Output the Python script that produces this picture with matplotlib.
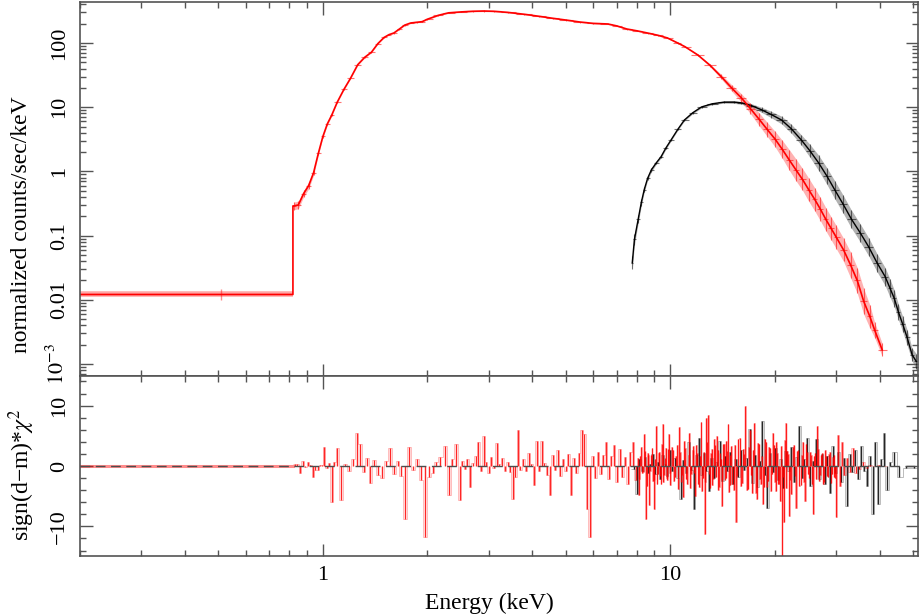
import matplotlib

matplotlib.use("Agg")
import matplotlib.pyplot as plt  # noqa: E402
import numpy as np  # noqa: E402
from matplotlib.ticker import LogLocator, MultipleLocator, NullFormatter  # noqa: E402

plt.rcParams["font.family"] = ["Liberation Serif", "DejaVu Serif"]
plt.rcParams["mathtext.fontset"] = "stix"

# ---- unfolded spectra (keV, counts/s/keV, half-width of scatter in dex) ----
red_wide_lo, red_wide_hi = 0.2, 0.82
red_wide_flux = 0.0121
red_wide_dex = 0.085
red_last_edge = 42.0

red_e = [0.825, 0.85, 0.88, 0.91, 0.94, 0.97, 1.00, 1.03, 1.06, 1.10, 1.15, 1.20, 1.26, 1.32,
         1.38, 1.44, 1.50, 1.55, 1.60, 1.66, 1.72, 1.79, 1.86, 1.93, 2.0, 2.15, 2.3, 2.5, 2.7,
         2.9, 3.1, 3.4, 3.8, 4.2, 4.6, 5.0, 5.5, 6.0, 6.6, 7.0, 7.5, 8.0, 8.6, 9.2, 9.8, 10.5,
         11.0, 12.0, 13.0, 14.0, 15.0, 16.0, 17.0, 18.0, 19.0, 20.0, 21.0, 22.0, 23.0, 24.0,
         25.0, 26.0, 27.0, 28.0, 29.0, 30.0, 31.5, 33.0, 34.5, 36.0, 37.5, 38.7, 40.7]
red_f = [0.29, 0.30, 0.45, 0.60, 0.95, 1.9, 3.5, 5.5, 7.5, 12, 19, 28, 46, 60, 72, 98, 122, 135,
         143, 165, 190, 205, 210, 215, 235, 270, 295, 305, 312, 315, 312, 300, 280, 260, 242,
         228, 212, 202, 198, 185, 165, 155, 143, 132, 120, 100, 88, 65, 45, 30, 20, 14, 9.5,
         6.5, 4.5, 3.2, 2.2, 1.5, 1.05, 0.75, 0.52, 0.37, 0.26, 0.18, 0.13, 0.095, 0.06, 0.035,
         0.02, 0.0095, 0.0055, 0.0034, 0.00166]
red_dex = [0.06, 0.06, 0.05, 0.05, 0.04, 0.03, 0.02, 0.02, 0.015, 0.01, 0.01, 0.01, 0.01, 0.01,
           0.01, 0.008, 0.008, 0.008, 0.008, 0.008, 0.008, 0.008, 0.008, 0.008, 0.008, 0.008,
           0.008, 0.008, 0.008, 0.008, 0.008, 0.008, 0.008, 0.008, 0.008, 0.008, 0.008, 0.008,
           0.008, 0.008, 0.008, 0.008, 0.008, 0.008, 0.008, 0.01, 0.01, 0.012, 0.02, 0.035,
           0.05, 0.065, 0.08, 0.1, 0.11, 0.12, 0.14, 0.16, 0.17, 0.17, 0.18, 0.18, 0.18, 0.18,
           0.18, 0.18, 0.18, 0.2, 0.2, 0.2, 0.18, 0.12, 0.1]

blk_first_edge, blk_last_edge = 7.7, 52.0
blk_e = [7.77, 7.88, 8.08, 8.25, 8.41, 8.6, 8.82, 9.1, 9.4, 9.7, 10.05, 10.5, 10.97, 11.6, 12.3,
         13.2, 14.3, 15.2, 16.0, 17.1, 18.3, 19.5, 20.9, 22.3, 23.8, 25.2, 26.7, 28.2, 29.7,
         31.4, 33.2, 35.2, 37.2, 39.3, 41.5, 42.9, 44.1, 45.3, 46.6, 48.0, 49.6, 51.0]
blk_f = [0.038, 0.087, 0.18, 0.33, 0.52, 0.78, 1.06, 1.35, 1.69, 2.3, 3.1, 4.5, 6.3, 8.2, 10.1,
         11.3, 12.0, 12.0, 11.7, 10.6, 9.1, 7.7, 6.3, 4.6, 3.1, 2.1, 1.36, 0.85, 0.52, 0.31,
         0.18, 0.11, 0.067, 0.038, 0.023, 0.015, 0.0105, 0.0065, 0.0042, 0.0026, 0.0014, 0.0011]
blk_dex = [0.1, 0.08, 0.06, 0.05, 0.04, 0.03, 0.03, 0.02, 0.02, 0.02, 0.015, 0.015, 0.015, 0.015,
           0.015, 0.015, 0.015, 0.02, 0.02, 0.03, 0.04, 0.05, 0.06, 0.07, 0.08, 0.1, 0.12, 0.13,
           0.14, 0.14, 0.14, 0.14, 0.14, 0.14, 0.14, 0.14, 0.13, 0.12, 0.12, 0.12, 0.1, 0.12]

# ---- residuals: sign(d-m)*chi^2 per bin ----
red_res_e = ([0.83, 0.845, 0.86, 0.875, 0.89, 0.905, 0.92, 0.935, 0.95, 0.965, 0.98, 0.995]
             + [1.01, 1.025, 1.04, 1.06, 1.08, 1.10, 1.13, 1.16, 1.19, 1.22, 1.25, 1.28, 1.31,
                1.34, 1.37, 1.40, 1.44, 1.48, 1.52, 1.56, 1.60, 1.64, 1.68, 1.72, 1.77, 1.82,
                1.87, 1.92, 1.97, 2.02, 2.07, 2.12, 2.18, 2.24, 2.30, 2.36, 2.42, 2.48]
             + [2.52, 2.56, 2.60, 2.65, 2.70, 2.75, 2.80, 2.85, 2.90, 2.95, 3.00, 3.05, 3.10,
                3.16, 3.22, 3.28, 3.34, 3.40, 3.46, 3.52, 3.58, 3.64, 3.70, 3.77, 3.84, 3.91,
                3.98, 4.05, 4.12, 4.19, 4.26, 4.34, 4.42, 4.50, 4.58, 4.66, 4.74, 4.82, 4.91,
                5.00, 5.09, 5.18, 5.27, 5.36, 5.46, 5.56, 5.66, 5.76, 5.86, 5.97, 6.08, 6.19,
                6.30, 6.41, 6.53, 6.65, 6.77, 6.89, 7.01, 7.14, 7.27, 7.40, 7.53, 7.67, 7.81, 7.95]
             + [8.1, 8.2, 8.3, 8.4, 8.5, 8.6, 8.7, 8.8, 8.9, 9.0, 9.1, 9.2, 9.3, 9.4, 9.5, 9.6,
                9.7, 9.8, 9.9, 10.0, 10.15, 10.3, 10.45, 10.6, 10.75, 10.9, 11.05, 11.2, 11.35,
                11.5, 11.65, 11.8, 11.95, 12.1, 12.25, 12.4, 12.55, 12.7, 12.85, 13.0, 13.15,
                13.3, 13.45, 13.6, 13.75, 13.9, 14.05, 14.2, 14.35, 14.5, 14.65, 14.8, 14.95,
                15.2, 15.45, 15.7, 15.95, 16.2, 16.45, 16.7, 16.95, 17.2, 17.45, 17.7, 17.95,
                18.2, 18.45, 18.7, 18.95, 19.2, 19.45, 19.7, 19.95, 20.2, 20.45, 20.7, 20.95,
                21.2, 21.45, 21.7, 21.95, 22.3, 22.65, 23.0, 23.35, 23.7, 24.05, 24.4, 24.75,
                25.1, 25.45, 25.8, 26.15, 26.5, 26.85, 27.2, 27.55, 27.9, 28.25, 28.6, 28.95,
                29.3, 29.65, 30.0]
             + [30.4, 30.8, 31.2, 31.7, 32.2, 32.8, 33.5, 34.2, 35.0, 35.8, 36.7, 37.6, 38.6,
                39.8, 41.2])
red_res = ([0.3, 0.3, -1.2, 0.9, -0.2, 0.6, 0.1, -1.8, -0.7, -0.7, 0.1, 0.2]
           + [3.1, -0.4, 0.5, -5.9, 0.6, 3.0, -5.6, 0.4, -0.8, 1.2, 5.4, 3.6, -1.0, 1.3, -2.8,
              1.0, -1.5, -2.0, 0.8, 3.0, -1.3, 0.9, -1.6, -8.8, 3.1, -0.7, 1.1, -2.4, -11.7,
              -1.8, -1.2, 0.7, 1.5, 3.3, -4.8, 1.2, 3.6, -5.6]
           + [0.8, -0.5, 1.2, -3.4, 0.5, 1.6, 4.0, -0.8, 4.9, 0.6, -1.2, 1.5, -0.4, 3.8, 0.3,
              1.4, -0.9, 0.7, -1.0, -5.4, -1.8, 5.9, -0.6, 1.2, -0.9, 2.2, 0.4, -3.1, 4.1, -0.8,
              4.1, 0.5, -1.5, -4.8, 1.8, -0.6, 2.6, -1.7, 1.1, -0.9, 2.0, -4.8, 1.3, -1.2, 2.2,
              5.9, 5.3, -7.1, -11.7, 1.6, -2.0, 2.4, -1.3, 1.9, 4.0, -2.2, 1.7, 3.5, -2.6, 2.8,
              -1.9, 1.5, -3.0, 2.3, 4.0, -2.4]
           + [-4.8, 1.6, -1.2, 5.3, -8.7, 2.1, -6.4, 1.8, -2.5, -7.2, 6.7, -1.3, 2.4, -2.9, 7.0,
              -1.5, 3.0, -2.3, 5.3, -3.1, 2.6, -1.8, 3.4, 6.5, -2.6, -5.2, 2.9, -3.0, 5.5, -1.4,
              3.3, -5.0, 2.2, -3.4, 7.3, -2.0, -11.2, 8.0, 8.4, -3.7, 2.8, -2.2, 3.5, 5.0, -3.9,
              2.1, -6.6, 3.6, -2.4, 4.2, 7.0, -3.1, 3.3, -4.0, -9.2, 4.4, -3.3, 2.8, 9.9, -3.8,
              5.9, -4.4, 7.2, -5.5, 3.6, -2.9, -6.3, 4.5, -3.5, 3.1, -4.2, 5.5, -2.6, 3.9, -3.0,
              -5.8, -16.0, -9.3, 7.2, 2.5, -8.3, -4.7, 3.4, -6.9, 2.7, -3.1, 3.9, -5.8, 2.4,
              -2.0, 1.8, -8.0, 2.2, 6.7, -2.5, 1.9, -3.0, 2.6, -1.7, 2.0, -2.8, 1.5, -1.9, -8.4]
           + [5.2, -3.3, 3.9, -1.5, 1.4, -1.0, 3.0, -1.2, -0.5, 0.6, -0.3, 0.2, 0.0, 0.1, 0.0])

# extra narrow red bins between the ones above (8-30 keV, where binning is finest)
red_fine_e = [8.05, 8.15, 8.25, 8.35, 8.45, 8.55, 8.65, 8.75, 8.85, 8.95, 9.05, 9.15, 9.25,
              9.35, 9.45, 9.55, 9.65, 9.75, 9.85, 9.95, 10.08, 10.22, 10.38, 10.52, 10.68,
              10.82, 10.98, 11.12, 11.28, 11.42, 11.58, 11.72, 11.88, 12.02, 12.18, 12.32,
              12.48, 12.62, 12.78, 12.92, 13.08, 13.22, 13.38, 13.52, 13.68, 13.82, 13.98,
              14.12, 14.28, 14.42, 14.58, 14.72, 14.88, 15.08, 15.32, 15.58, 15.82, 16.08,
              16.32, 16.58, 16.82, 17.08, 17.32, 17.58, 17.82, 18.08, 18.32, 18.58, 18.82,
              19.08, 19.32, 19.58, 19.82, 20.08, 20.32, 20.58, 20.82, 21.08, 21.32, 21.58,
              21.82, 22.12, 22.48, 22.82, 23.18, 23.52, 23.88, 24.22, 24.58, 24.92, 25.28,
              25.62, 25.98, 26.32, 26.68, 27.02, 27.38, 27.72, 28.08, 28.42, 28.78, 29.12,
              29.48, 29.82]
red_fine = [1.4, -2.1, 3.2, -1.0, 2.5, -3.3, 1.8, -0.9, 2.9, -2.4, 1.1, -3.0, 2.2, -1.6, 3.6,
            -2.7, 1.3, -2.0, 2.8, -1.2, 3.1, -2.5, 1.7, -3.8, 2.4, -1.5, 4.2, -2.2, 1.9, -3.6,
            2.7, -1.1, 3.5, -2.9, 1.6, -4.1, 2.3, -2.6, 3.9, -1.4, 2.1, -3.2, 4.4, -1.8, 2.6,
            -3.5, 1.2, -2.3, 3.7, -2.0, 2.5, -4.3, 1.8, -3.0, 3.4, -1.7, 4.6, -2.8, 2.0, -3.9,
            3.1, -1.5, 2.7, -4.5, 3.8, -2.1, 1.6, -3.4, 4.0, -2.5, 2.9, -1.3, 3.5, -4.1, 2.2,
            -2.9, 3.3, -1.9, 4.3, -3.6, 2.0, -2.4, 3.2, -1.6, 2.5, -3.3, 1.9, -2.6, 3.6, -1.4,
            2.3, -3.0, 1.7, -2.2, 2.8, -1.5, 2.1, -2.7, 1.6, -1.9, 2.4, -1.3, 1.8, -2.0]

blk_res_e = [7.85, 8.0, 8.15, 8.3, 8.45, 8.6, 8.75, 8.9, 9.05, 9.2, 9.35, 9.5, 9.65, 9.8, 9.95,
             10.1, 10.3, 10.5, 10.7, 10.9, 11.1, 11.3, 11.5, 11.7, 11.9, 12.1, 12.3, 12.5, 12.7,
             12.9, 13.1, 13.35, 13.6, 13.85, 14.1, 14.35, 14.6, 14.85, 15.1, 15.4, 15.7, 16.0,
             16.3, 16.6, 16.9, 17.2, 17.5, 17.8, 18.1, 18.4, 18.7, 19.0, 19.35, 19.7, 20.05,
             20.4, 20.75, 21.1, 21.5, 21.9, 22.3, 22.7, 23.1, 23.5, 23.9, 24.3, 24.8, 25.3, 25.8,
             26.3, 26.8, 27.3, 27.8, 28.3, 28.8, 29.3, 29.8, 30.4, 31.0, 31.6, 32.2, 32.8, 33.4,
             34.0, 34.7, 35.4, 36.1, 36.8, 37.5, 38.2, 38.9, 39.6, 40.4, 41.2, 42.0, 42.9, 44.1,
             45.6, 47.6, 50.4]
blk_res = [-0.5, -4.7, 1.2, -0.8, 1.5, -1.1, 0.4, 2.0, -1.4, 0.7, -2.2, 1.8, 0.3, -1.7, 2.7,
           -0.9, 1.4, -2.0, -5.5, 1.0, -1.2, 4.0, -0.6, -7.1, 1.9, 4.7, -1.5, 2.1, -0.8, -4.1,
           1.3, -2.0, 0.6, 4.2, -2.5, 1.7, -0.9, 2.4, -3.0, 1.1, -1.8, 2.6, -0.7, 1.4, 6.1,
           -2.8, 1.9, -3.4, 0.8, 7.4, -1.5, -6.9, 2.2, -1.0, 3.0, -2.3, 1.2, -3.6, 2.5, -0.9,
           3.1, -2.7, 1.5, 6.7, -2.0, 1.1, 4.7, -3.3, 0.9, 4.4, -2.1, 2.0, -3.0, 1.6, -4.4, 3.3,
           -1.2, 2.4, -2.6, 1.3, -6.6, 2.0, -1.0, 2.6, -2.2, 3.3, -0.8, -3.3, 1.7, -8.0, 3.9,
           -6.3, 1.2, 5.4, -3.9, 0.6, 2.3, -1.9, -0.4, -0.3]

ytick_vals = [1e-3, 0.01, 0.1, 1, 10, 100]
ytick_text = ["$10^{-3}$", "0.01", "0.1", "1", "10", "100"]
rtick_vals = [-10, 0, 10]
rtick_text = ["\u221210", "0", "10"]

AXC = "0.33"


def log_edges(centers, lo, hi):
    c = np.asarray(centers, float)
    return np.concatenate([[lo], np.sqrt(c[:-1] * c[1:]), [hi]])


def spectrum(ax, e, f, dex, lo, hi, color):
    e, f, dex = (np.asarray(a, float) for a in (e, f, dex))
    edges = log_edges(e, lo, hi)
    xerr = [e - edges[:-1], edges[1:] - e]
    yerr = [f - f * 10 ** -dex, f * 10 ** dex - f]
    ax.fill_between(e, f * 10 ** -dex, f * 10 ** dex, color=color, alpha=0.3, lw=0)
    ax.errorbar(e, f, xerr=xerr, yerr=yerr, fmt="none", ecolor=color, alpha=0.55, lw=0.8)


def residuals(ax, e, r, lo, hi, color):
    # narrow bins: spike from zero plus a faint outline of the bin steps
    e, r = np.asarray(e, float), np.asarray(r, float)
    order = np.argsort(e)
    e, r = e[order], r[order]
    ax.stairs(r, log_edges(e, lo, hi), baseline=None, color=color, lw=0.6, alpha=0.3)
    ax.vlines(e, 0, r, color=color, lw=1.0, alpha=0.85)


def style(ax):
    for s in ax.spines.values():
        s.set_color(AXC)
        s.set_linewidth(1.2)
    ax.tick_params(which="both", direction="in", top=True, right=True, color=AXC, width=1.0,
                   labelsize=16, labelcolor="black")
    ax.tick_params(which="major", length=9)
    ax.tick_params(which="minor", length=4.5)
    ax.set_xscale("log")
    ax.set_xlim(0.2, 51.6)
    ax.set_xticks([1, 10])
    ax.xaxis.set_minor_locator(LogLocator(base=10, subs=np.arange(2, 10)))
    ax.xaxis.set_minor_formatter(NullFormatter())


fig = plt.figure(figsize=(9.21, 6.16), dpi=100)
ax1 = fig.add_axes([80 / 921, 1 - 376 / 616, 838 / 921, 374 / 616])
ax2 = fig.add_axes([80 / 921, 1 - 556 / 616, 838 / 921, 180 / 616])

# top panel
style(ax1)
ax1.set_yscale("log")
ax1.set_ylim(6.5e-4, 435)
ax1.set_yticks(ytick_vals)
ax1.set_yticklabels(ytick_text, rotation=90, va="center")
ax1.yaxis.set_minor_locator(LogLocator(base=10, subs=np.arange(2, 10)))
ax1.yaxis.set_minor_formatter(NullFormatter())
ax1.tick_params(axis="y", pad=8)
ax1.tick_params(labelbottom=False)

ax1.plot([red_wide_lo, red_wide_hi], [red_wide_flux, red_wide_flux], color="red", alpha=0.35,
         lw=4, solid_capstyle="butt")
ax1.errorbar([(red_wide_lo + red_wide_hi) / 2], [red_wide_flux],
             yerr=[[red_wide_flux - red_wide_flux * 10 ** -red_wide_dex],
                   [red_wide_flux * 10 ** red_wide_dex - red_wide_flux]],
             fmt="none", ecolor="red", alpha=0.45, lw=1)
spectrum(ax1, blk_e, blk_f, blk_dex, blk_first_edge, blk_last_edge, "black")
ax1.plot(blk_e, blk_f, color="black", lw=1.0)
spectrum(ax1, red_e, red_f, red_dex, red_wide_hi, red_last_edge, "red")
ax1.plot([red_wide_lo, red_wide_hi, red_wide_hi] + red_e,
         [red_wide_flux, red_wide_flux, red_f[0]] + red_f, color="red", lw=1.2)

# residual panel
style(ax2)
ax2.set_ylim(-14.9, 14.9)
ax2.set_yticks(rtick_vals)
ax2.set_yticklabels(rtick_text, rotation=90, va="center")
ax2.yaxis.set_minor_locator(MultipleLocator(2))
ax2.tick_params(axis="y", pad=8)
ax2.tick_params(axis="x", pad=7)
ax2.set_xticklabels(["1", "10"])

ax2.plot([red_wide_lo, red_wide_hi], [0, 0], color="red", alpha=0.45, lw=2.2)
residuals(ax2, blk_res_e, blk_res, blk_first_edge, blk_last_edge, "black")
residuals(ax2, red_res_e + red_fine_e, red_res + red_fine, red_wide_hi, red_last_edge, "red")
ax2.axhline(0, color="0.3", lw=1.0, ls=(0, (7, 4)), zorder=5)

fig.text(22 / 921, 1 - 225 / 616, "normalized counts/sec/keV", rotation=90, ha="center",
         va="center", fontsize=17)
fig.text(22 / 921, 1 - 475 / 616, "sign(d\u2212m)*$\\chi^2$", rotation=90, ha="center",
         va="center", fontsize=17)
fig.text(489 / 921, 1 - 603 / 616, "Energy (keV)", ha="center", va="center", fontsize=17)

fig.savefig("out.png", dpi=100)
